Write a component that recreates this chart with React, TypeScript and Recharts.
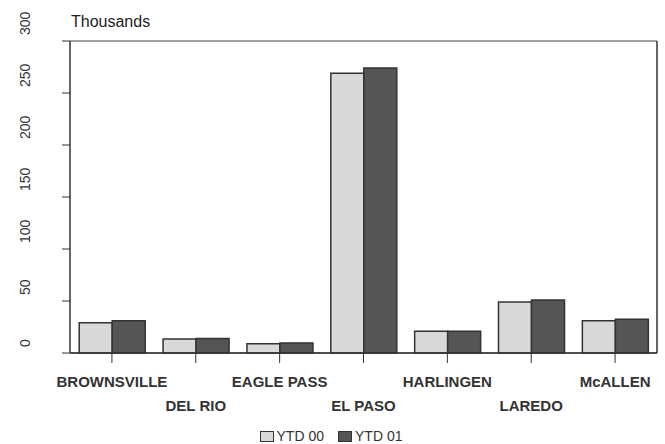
import React from "react";
import {
  Bar,
  BarChart,
  CartesianGrid,
  Legend,
  XAxis,
  YAxis,
} from "recharts";

const ports = [
  "BROWNSVILLE",
  "DEL RIO",
  "EAGLE PASS",
  "EL PASO",
  "HARLINGEN",
  "LAREDO",
  "McALLEN",
];
const ytd00 = [29, 13.5, 9, 269, 21, 49, 31];
const ytd01 = [31, 14, 9.5, 274, 21, 51, 32.5];
const yTicks = [0, 50, 100, 150, 200, 250, 300];

const data = ports.map((name, i) => ({
  name,
  ytd00: ytd00[i],
  ytd01: ytd01[i],
}));

const font = "'Liberation Sans', Arial, sans-serif";

const CategoryTick = (props: any) => {
  const { x, y, payload, index } = props;
  const low = index % 2 === 1;
  return (
    <text
      x={x}
      y={y + (low ? 46 : 22)}
      textAnchor="middle"
      fontFamily={font}
      fontSize={15}
      fontWeight="bold"
      fill="#333"
    >
      {payload.value}
    </text>
  );
};

const ValueTick = (props: any) => {
  const { y, payload } = props;
  return (
    <text
      transform={`translate(30, ${y - 6}) rotate(-90)`}
      textAnchor="start"
      fontFamily={font}
      fontSize={14}
      fill="#333"
    >
      {payload.value}
    </text>
  );
};

const swatch = (bg: string) => (
  <span
    style={{
      width: 12,
      height: 9,
      background: bg,
      border: "1.5px solid #333",
      display: "inline-block",
    }}
  />
);

const LegendBox = () => (
  <div
    style={{
      display: "flex",
      justifyContent: "center",
      alignItems: "center",
      gap: 14,
      fontFamily: font,
      fontSize: 14,
      lineHeight: "16px",
      color: "#333",
      height: 22,
      boxSizing: "border-box",
      paddingTop: 6,
      paddingLeft: 4,
    }}
  >
    <span style={{ display: "flex", alignItems: "center", gap: 3 }}>
      {swatch("#d9d9d9")}
      YTD 00
    </span>
    <span style={{ display: "flex", alignItems: "center", gap: 3 }}>
      {swatch("#555")}
      YTD 01
    </span>
  </div>
);

export default function App() {
  return (
    <div style={{ position: "absolute", left: 0, top: 0, background: "#fff" }}>
      <BarChart
        width={665}
        height={444}
        data={data}
        margin={{ top: 41, right: 7, bottom: 0, left: 0 }}
        barCategoryGap="11%"
        barGap={0}
      >
        <text x={71} y={27} fontFamily={font} fontSize={16} fill="#222">
          Thousands
        </text>
        <CartesianGrid
          vertical={false}
          stroke="#444"
          strokeWidth={1.2}
          strokeDasharray=""
        />
        <XAxis
          dataKey="name"
          interval={0}
          height={69}
          tickSize={10}
          stroke="#333"
          axisLine={{ stroke: "#333", strokeWidth: 1.5 }}
          tickLine={{ stroke: "#333" }}
          tick={<CategoryTick />}
        />
        <YAxis
          yAxisId="left"
          domain={[0, 300]}
          ticks={yTicks}
          width={70}
          tickSize={8}
          stroke="#333"
          axisLine={{ stroke: "#333", strokeWidth: 1.5 }}
          tickLine={{ stroke: "#333" }}
          tick={<ValueTick />}
        />
        <YAxis
          yAxisId="right"
          orientation="right"
          domain={[0, 300]}
          ticks={yTicks}
          width={1}
          tick={false}
          tickLine={false}
          stroke="#333"
          axisLine={{ stroke: "#333", strokeWidth: 1.5 }}
        />
        <Bar
          yAxisId="left"
          dataKey="ytd00"
          name="YTD 00"
          fill="#d9d9d9"
          stroke="#333"
          strokeWidth={1.5}
          isAnimationActive={false}
        />
        <Bar
          yAxisId="left"
          dataKey="ytd01"
          name="YTD 01"
          fill="#555"
          stroke="#333"
          strokeWidth={1.5}
          isAnimationActive={false}
        />
        <Legend verticalAlign="bottom" height={22} content={<LegendBox />} />
      </BarChart>
    </div>
  );
}
